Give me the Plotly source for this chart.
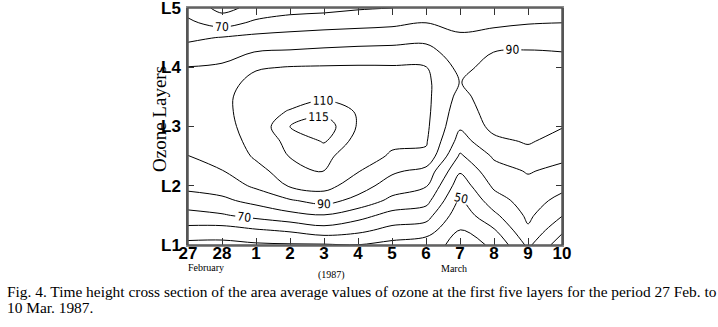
import plotly.graph_objects as go

# Days (x categories) and layers (y)
day_labels = ["27", "28", "1", "2", "3", "4", "5", "6", "7", "8", "9", "10"]
layer_pos = [1 + 0.25 * k for k in range(17)]
layer_ticks = [1, 2, 3, 4, 5]
layer_labels = ["L1", "L2", "L3", "L4", "L5"]

# Ozone values per day, from L1 (bottom) to L5 (top) in quarter-layer steps
feb27 = [47, 57, 66.5, 76, 82.3, 86.2, 89.9, 92, 93.5, 94, 94, 93, 90.2, 84.4, 78, 72, 66]
feb28 = [47, 56, 69, 78, 84.5, 89.8, 92, 94, 95.5, 96.5, 97, 96, 91.5, 86, 80.5, 65.7, 57]
mar1 = [48.5, 59, 73, 83, 91.8, 96.6, 101.5, 104, 106, 107, 106, 103, 99, 90.5, 82.6, 72, 63]
mar2 = [49, 61.4, 77, 89, 101, 105.5, 110.5, 112.5, 115, 110.5, 107.2, 103.8, 100.4, 91.4, 83.4, 74.8, 66]
mar3 = [49, 65.9, 79.5, 93.6, 103.6, 110.6, 112.6, 115.3, 118, 113.5, 108.9, 104.8, 100.8, 92.5, 84.4, 76, 67]
mar4 = [49.8, 62.5, 73.8, 86.9, 94.7, 100.6, 104, 108, 109.5, 109.5, 107.5, 105, 101, 93.5, 85, 77, 69]
mar5 = [47, 57, 66.5, 77.5, 85.3, 91.7, 99, 101.5, 103, 104, 104, 103, 100.8, 94, 85.6, 78, 70]
mar6 = [44, 55, 64, 73.5, 80.8, 87, 98, 101, 102, 102.5, 102.5, 102, 100.3, 94, 87, 80, 73]
mar7 = [37, 39.6, 43.9, 48.2, 54.1, 61.2, 68.5, 75.9, 81.3, 84.1, 86.9, 89.7, 87.2, 84.2, 81.1, 78, 75]
mar8 = [41, 49, 57.8, 65.5, 71.8, 76.4, 81.3, 87.5, 93, 95, 96, 95, 93.5, 90.2, 84, 78, 73]
mar9 = [62, 68.5, 72, 74.6, 77.5, 80.7, 86.3, 91, 93, 94.5, 95, 94.5, 93, 91, 85, 79.5, 75]
mar10 = [44, 52, 60.5, 67, 72.8, 77.7, 82, 86.4, 90.5, 92, 93, 93, 92, 90.2, 85, 80, 75]

columns = [feb27, feb28, mar1, mar2, mar3, mar4, mar5, mar6, mar7, mar8, mar9, mar10]
x_idx = list(range(len(day_labels)))
z = [[col[r] for col in columns] for r in range(len(layer_pos))]

label_font = dict(family="Liberation Sans Narrow, DejaVu Sans Condensed, Arial Narrow, sans-serif",
                  size=12, color="black")


def contour_trace(start, end, size, labels):
    return go.Contour(
        x=x_idx, y=layer_pos, z=z,
        autocontour=False,
        contours=dict(coloring="none", start=start, end=end, size=size,
                      showlabels=labels, labelfont=label_font),
        line=dict(color="black", width=1, smoothing=1),
        showscale=False, hoverinfo="skip",
    )


fig = go.Figure()
fig.add_trace(contour_trace(40, 100, 20, False))
fig.add_trace(contour_trace(50, 110, 20, True))
fig.add_trace(contour_trace(115, 115, 1, True))

tick_font = dict(family="Liberation Sans, Arial, sans-serif", size=17, color="black", weight="bold")

fig.update_layout(
    width=718, height=327,
    margin=dict(l=188, r=156, t=8, b=82, autoexpand=False),
    paper_bgcolor="white", plot_bgcolor="white",
    showlegend=False,
    xaxis=dict(range=[0, 11], tickvals=x_idx, ticktext=day_labels,
               ticks="inside", ticklen=7, tickcolor="#333333",
               showline=True, linecolor="#8a8a8a", linewidth=2,
               mirror="ticks", showgrid=False, zeroline=False,
               automargin=False, ticklabelstandoff=-8,
               tickfont=tick_font),
    yaxis=dict(range=[1, 5], tickvals=layer_ticks, ticktext=layer_labels,
               ticks="inside", ticklen=6, tickcolor="#333333",
               showline=True, linecolor="#555555", linewidth=1.5,
               mirror="ticks", showgrid=False, zeroline=False,
               automargin=False, ticklabelstandoff=2, ticklabeloverflow="allow",
               tickfont=tick_font),
    shapes=[dict(type="rect", xref="paper", yref="paper", x0=0, x1=1, y0=0, y1=1,
                 line=dict(color="#555555", width=1.5), layer="above")],
)

serif = "Liberation Serif, Times New Roman, serif"
annotations = [
    dict(text="February", xref="x", x=0, xanchor="left", xshift=-2,
         yref="paper", y=0, yanchor="middle", yshift=-22,
         showarrow=False, font=dict(family=serif, size=10, color="black")),
    dict(text="March", xref="x", x=8, xanchor="center", xshift=-6,
         yref="paper", y=0, yanchor="middle", yshift=-23,
         showarrow=False, font=dict(family=serif, size=10, color="black")),
    dict(text="(1987)", xref="x", x=4, xanchor="center", xshift=7,
         yref="paper", y=0, yanchor="middle", yshift=-30,
         showarrow=False, font=dict(family=serif, size=10, color="black")),
    dict(text="Ozone Layers", xref="paper", x=(159 - 188) / 374, xanchor="center",
         yref="paper", y=(245 - 119) / 237, yanchor="middle", textangle=-90,
         showarrow=False, font=dict(family=serif, size=19, color="black")),
    dict(text="Fig. 4. Time height cross section of the area average values of ozone at the first five layers for the period 27 Feb. to",
         xref="paper", x=(5 - 188) / 374, xanchor="left", align="left",
         yref="paper", y=(245 - 291) / 237, yanchor="middle",
         showarrow=False, font=dict(family=serif, size=15.4, color="black")),
    dict(text="10 Mar. 1987.",
         xref="paper", x=(5 - 188) / 374, xanchor="left", align="left",
         yref="paper", y=(245 - 307) / 237, yanchor="middle",
         showarrow=False, font=dict(family=serif, size=15.4, color="black")),
]
fig.update_layout(annotations=annotations)

fig.write_html("out.html", config={"displayModeBar": False},
               post_script="document.body.style.margin='0';document.body.style.padding='0';")
